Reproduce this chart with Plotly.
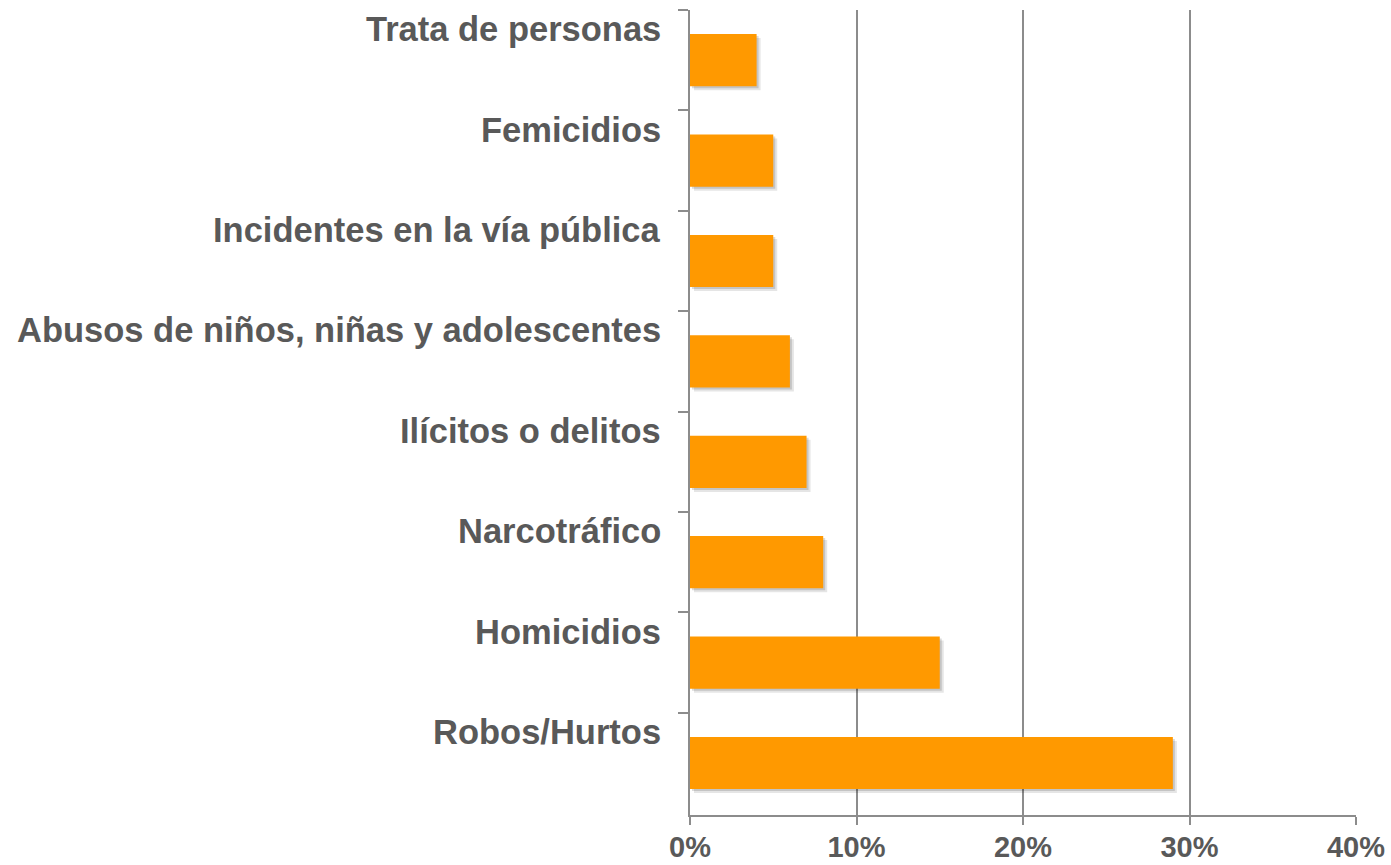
import plotly.graph_objects as go

# categories listed top to bottom, as shown
categorias = [
    "Trata de personas",
    "Femicidios",
    "Incidentes en la vía pública",
    "Abusos de niños, niñas y adolescentes",
    "Ilícitos o delitos",
    "Narcotráfico",
    "Homicidios",
    "Robos/Hurtos",
]
porcentajes = [0.04, 0.05, 0.05, 0.06, 0.07, 0.08, 0.15, 0.29]
x_ticks = [0, 0.1, 0.2, 0.3, 0.4]
x_tick_labels = ["0%", "10%", "20%", "30%", "40%"]

TEXT_GRAY = "#595959"
LINE_GRAY = "#8c8c8c"
BAR_ORANGE = "#ff9900"
FONT = "Liberation Sans, Arial, sans-serif"

# plot area sits at x 690..1356, y 10..815 of the 1391x865 page
W, H = 1391, 865
M = dict(l=690, r=35, t=10, b=50)
plot_w = W - M["l"] - M["r"]
plot_h = H - M["t"] - M["b"]
BAR_W = 0.52

fig = go.Figure()

# soft drop shadow: two faint copies nudged right/down, under the bars
for px_off, alpha in [(4, 0.10), (2, 0.14)]:
    fig.add_trace(go.Bar(
        x=porcentajes, y=categorias, orientation="h",
        base=px_off / plot_w * 0.4,
        offset=-BAR_W / 2 + px_off / plot_h * len(categorias),
        width=BAR_W,
        marker=dict(color=f"rgba(0,0,0,{alpha})", line=dict(width=0)),
        hoverinfo="skip", showlegend=False,
    ))

fig.add_trace(go.Bar(
    x=porcentajes, y=categorias, orientation="h",
    offset=-BAR_W / 2, width=BAR_W,
    marker=dict(color=BAR_ORANGE, line=dict(width=0)),
    showlegend=False,
    hovertemplate="%{y}: %{x:.0%}<extra></extra>",
))

annotations = []
for cat in categorias:
    annotations.append(dict(
        x=0, xref="paper", xanchor="right", xshift=-27,
        y=cat, yref="y", yanchor="middle", yshift=31,
        text=cat, showarrow=False,
        font=dict(family=FONT, size=34.5, color=TEXT_GRAY, weight="bold"),
    ))

fig.update_layout(
    width=W, height=H,
    margin=M,
    paper_bgcolor="white", plot_bgcolor="white",
    barmode="overlay",
    annotations=annotations,
    xaxis=dict(
        range=[0, 0.4], tickvals=x_ticks, ticktext=x_tick_labels,
        showgrid=True, gridcolor=LINE_GRAY, gridwidth=1.5,
        showline=True, linecolor=LINE_GRAY, linewidth=1.5,
        ticks="outside", ticklen=8, tickcolor=LINE_GRAY, tickwidth=1.5,
        tickfont=dict(family=FONT, size=29, color=TEXT_GRAY, weight="bold"),
        ticklabelstandoff=-3,
        zeroline=False, fixedrange=True, automargin=False,
    ),
    yaxis=dict(
        type="category", categoryorder="array", categoryarray=categorias,
        autorange="reversed",
        showline=True, linecolor=LINE_GRAY, linewidth=1.5,
        ticks="outside", ticklen=10, tickcolor=LINE_GRAY, tickwidth=1.5,
        tickson="boundaries", showticklabels=False, showgrid=False,
        fixedrange=True, automargin=False,
    ),
)

# drop the browser's default 8px body margin so the figure fills the window
fig.write_html(
    "out.html",
    config={"displayModeBar": False},
    post_script="document.body.style.margin='0';document.body.style.overflow='hidden';",
)
